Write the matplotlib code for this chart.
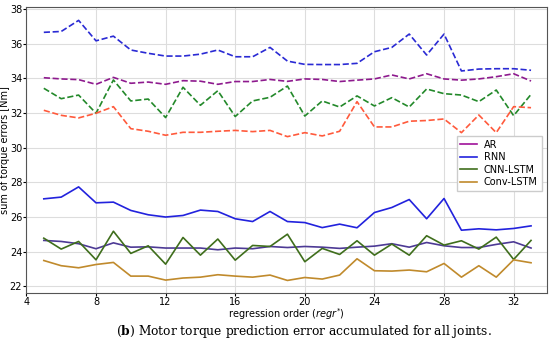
import matplotlib.pyplot as plt
from matplotlib.lines import Line2D

plt.rcParams['mathtext.fontset'] = 'dejavusans'

orders = list(range(5, 34))

# dashed curves (upper group)
ar_dash = [34.04, 33.97, 33.93, 33.66, 34.06, 33.72, 33.79, 33.66, 33.87, 33.84,
           33.66, 33.82, 33.82, 33.94, 33.83, 33.97, 33.94, 33.82, 33.90, 33.97,
           34.20, 33.97, 34.27, 33.97, 33.90, 33.97, 34.10, 34.27, 33.85]
rnn_dash = [36.66, 36.71, 37.35, 36.17, 36.44, 35.64, 35.45, 35.29, 35.29, 35.40,
            35.64, 35.25, 35.25, 35.79, 35.00, 34.81, 34.80, 34.80, 34.87, 35.54,
            35.79, 36.56, 35.35, 36.56, 34.43, 34.54, 34.56, 34.56, 34.47]
cnn_dash = [33.43, 32.83, 33.04, 31.99, 33.91, 32.70, 32.81, 31.74, 33.49, 32.45,
            33.29, 31.80, 32.70, 32.91, 33.56, 31.83, 32.70, 32.35, 32.99, 32.41,
            32.89, 32.35, 33.39, 33.12, 33.04, 32.66, 33.33, 31.85, 33.08]
conv_dash = [32.16, 31.87, 31.72, 31.99, 32.37, 31.10, 30.95, 30.72, 30.89, 30.89,
             30.95, 31.00, 30.93, 31.00, 30.64, 30.87, 30.68, 30.95, 32.66, 31.20,
             31.20, 31.53, 31.57, 31.66, 30.87, 31.89, 30.87, 32.37, 32.31]

# solid curves (lower group)
ar_solid = [24.65, 24.59, 24.46, 24.17, 24.51, 24.26, 24.28, 24.21, 24.21, 24.21,
            24.11, 24.21, 24.17, 24.30, 24.24, 24.30, 24.26, 24.19, 24.26, 24.32,
            24.46, 24.26, 24.53, 24.34, 24.24, 24.24, 24.42, 24.57, 24.21]
rnn_solid = [27.05, 27.15, 27.74, 26.82, 26.86, 26.38, 26.13, 26.00, 26.09, 26.40,
             26.32, 25.90, 25.74, 26.32, 25.74, 25.68, 25.39, 25.59, 25.38, 26.26,
             26.55, 27.01, 25.90, 27.07, 25.24, 25.32, 25.26, 25.34, 25.49]
cnn_solid = [24.78, 24.15, 24.59, 23.53, 25.18, 23.90, 24.34, 23.28, 24.82, 23.80,
             24.73, 23.51, 24.36, 24.30, 25.01, 23.42, 24.19, 23.84, 24.63, 23.80,
             24.44, 23.80, 24.92, 24.38, 24.63, 24.15, 24.84, 23.55, 24.65]
conv_solid = [23.49, 23.19, 23.07, 23.26, 23.38, 22.59, 22.59, 22.36, 22.48, 22.53,
              22.67, 22.59, 22.53, 22.65, 22.34, 22.51, 22.42, 22.65, 23.59, 22.90,
              22.88, 22.94, 22.84, 23.32, 22.53, 23.19, 22.53, 23.53, 23.36]

labels = ['AR', 'RNN', 'CNN-LSTM', 'Conv-LSTM']
legend_colors = ['#a0129a', '#2222dd', '#3f6e1c', '#c08a2c']

fig = plt.figure(figsize=(5.5, 3.43), dpi=100)
ax = fig.add_axes([0.048, 0.145, 0.946, 0.835])

lw = 1.2
ax.plot(orders, rnn_dash, '--', color='#2a2ad4', lw=lw)
ax.plot(orders, ar_dash, '--', color='#8e1a8e', lw=lw)
ax.plot(orders, cnn_dash, '--', color='#23892a', lw=lw)
ax.plot(orders, conv_dash, '--', color='#ff5a3c', lw=lw)

ax.plot(orders, rnn_solid, '-', color='#2222dd', lw=lw)
ax.plot(orders, ar_solid, '-', color='#4d3a95', lw=lw)
ax.plot(orders, cnn_solid, '-', color='#3f6e1c', lw=lw)
ax.plot(orders, conv_solid, '-', color='#c08a2c', lw=lw)

ax.set_xlim(4, 33.9)
ax.set_ylim(21.6, 38.13)
ax.set_xticks(range(4, 33, 4))
ax.set_yticks(range(22, 39, 2))
ax.tick_params(labelsize=7, length=2, pad=1)
ax.grid(True, color='#dddddd', lw=0.8)
for s in ax.spines.values():
    s.set_color('#555555')

ax.set_xlabel('regression order ($regr^{*}$)', fontsize=7)
ax.xaxis.set_label_coords(0.5, -0.045)
ax.set_ylabel('sum of torque errors [Nm]', fontsize=7)
ax.yaxis.set_label_coords(-0.031, 0.5)

handles = [Line2D([0], [0], color=c, lw=lw) for c in legend_colors]
ax.legend(handles, labels, loc='upper right', bbox_to_anchor=(0.9995, 0.5666),
          fontsize=7, framealpha=1, edgecolor='#cccccc', fancybox=False,
          handlelength=1.7, borderpad=0.4, labelspacing=0.25, handletextpad=0.7)

fig.text(0.552, 0.033, r'($\mathbf{b}$) Motor torque prediction error accumulated for all joints.',
         ha='center', va='center', fontsize=8.8, family='DejaVu Serif',
         math_fontfamily='dejavuserif')

fig.savefig('out.png', dpi=100)
